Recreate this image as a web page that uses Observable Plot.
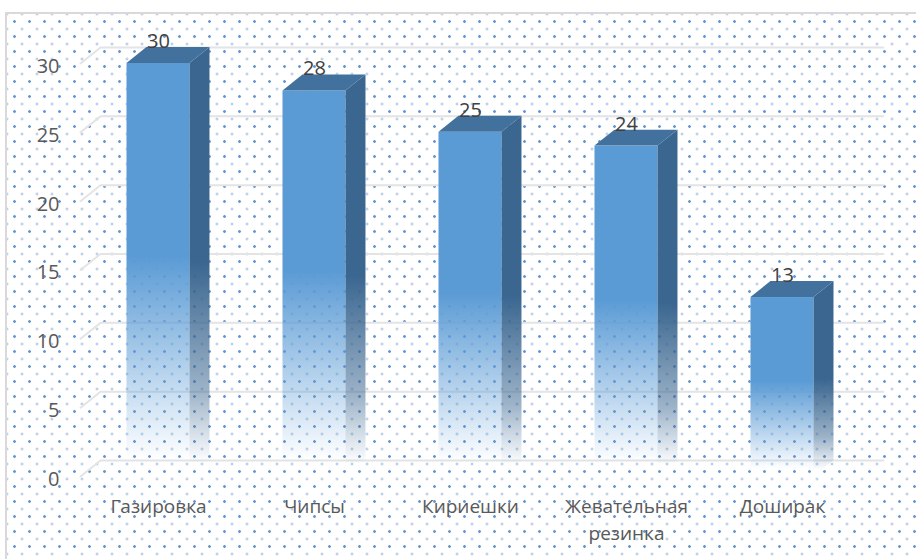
<!DOCTYPE html>
<html><head><meta charset="utf-8">
<script src="https://cdn.jsdelivr.net/npm/d3@7"></script>
<script src="https://cdn.jsdelivr.net/npm/@observablehq/plot@0.6"></script>
<style>
html,body{margin:0;padding:0;background:#fff;}
#wrap{position:relative;width:916px;height:559px;overflow:hidden;}
#bg{position:absolute;left:5px;top:12px;width:930px;height:570px;border:2px solid #d9d9d9;box-sizing:border-box;
background-color:#fff;
background-image: radial-gradient(circle, rgba(68,126,196,0.8) 1.0px, rgba(68,126,196,0) 1.7px), radial-gradient(circle, rgba(68,126,196,0.55) 0.8px, rgba(68,126,196,0) 1.5px);
background-size:15px 15px, 15px 15px;
background-position: 0 0, 7.5px 7.5px;}
#chart{position:absolute;left:0;top:0;}
</style></head><body><div id="wrap"><div id="bg"></div><div id="chart"></div></div>
<script>
const categories = ["Газировка", "Чипсы", "Кириешки", "Жевательная\nрезинка", "Доширак"];
const values = [30, 28, 25, 24, 13];
const yTicks = [0, 5, 10, 15, 20, 25, 30];

// 3D geometry in data units
const HW = 0.202, DX = 0.128, DY = 1.16, X_LEFT = -0.5, X_END = 4.647;

const bars = categories.map((name, i) => ({i, name, v: values[i]}));
const side = bars.flatMap(b => [
  {i: b.i, x: b.i + HW, y1: 0, y2: b.v},
  {i: b.i, x: b.i + HW + DX, y1: DY, y2: b.v + DY}
]);
const topFace = bars.flatMap(b => [
  {i: b.i, y: b.v, x1: b.i - HW, x2: b.i + HW},
  {i: b.i, y: b.v + DY, x1: b.i - HW + DX, x2: b.i + HW + DX}
]);
const grid = yTicks.flatMap(t => [
  {t, x: X_LEFT, y: t},
  {t, x: X_LEFT + DX, y: t + DY},
  {t, x: X_END, y: t + DY}
]);

const svg = Plot.plot({
  width: 916, height: 559,
  marginLeft: 62, marginTop: 20, marginBottom: 83, marginRight: 20,
  style: {background: "transparent", fontFamily: "'Open Sans', sans-serif", color: "#595959"},
  x: {domain: [0, 4], range: [158, 782], axis: null},
  y: {domain: [0, 30], range: [476, 63]},
  marks: [
    Plot.line(grid, {x: "x", y: "y", z: "t", stroke: "#e4e4e4", strokeWidth: 2}),
    Plot.rectY(bars, {x1: d => d.i - HW, x2: d => d.i + HW, y1: 0, y2: "v", fill: "url(#frontGrad)"}),
    Plot.areaY(side, {x: "x", y1: "y1", y2: "y2", z: "i", fill: "url(#sideGrad)"}),
    Plot.areaX(topFace, {y: "y", x1: "x1", x2: "x2", z: "i", fill: "#41719c"}),
    Plot.axisY({ticks: yTicks, tickSize: 0, tickPadding: 3, fontSize: 20, fill: "#595959", dy: 3}),
    Plot.text(bars, {x: "i", y: "v", text: d => String(d.v), dy: -22, fontSize: 20, fill: "#404040"}),
    Plot.text(bars, {x: "i", y: 0, text: "name", dy: 18, lineAnchor: "top", lineHeight: 1.4, fontSize: 19, fill: "#595959"})
  ]
});

d3.select(svg).insert("defs", ":first-child").html(`
  <linearGradient id="frontGrad" x1="0" y1="0" x2="0" y2="1">
    <stop offset="0" stop-color="#5b9bd5" stop-opacity="1"/>
    <stop offset="0.47" stop-color="#5b9bd5" stop-opacity="1"/>
    <stop offset="0.72" stop-color="#5b9bd5" stop-opacity="0.5"/>
    <stop offset="0.96" stop-color="#5b9bd5" stop-opacity="0"/>
  </linearGradient>
  <linearGradient id="sideGrad" x1="0" y1="0" x2="0" y2="1">
    <stop offset="0" stop-color="#3a6690" stop-opacity="1"/>
    <stop offset="0.5" stop-color="#3a6690" stop-opacity="1"/>
    <stop offset="0.8" stop-color="#3a6690" stop-opacity="0.5"/>
    <stop offset="0.97" stop-color="#3a6690" stop-opacity="0"/>
  </linearGradient>`);

document.getElementById("chart").appendChild(svg);
</script>
</body></html>
